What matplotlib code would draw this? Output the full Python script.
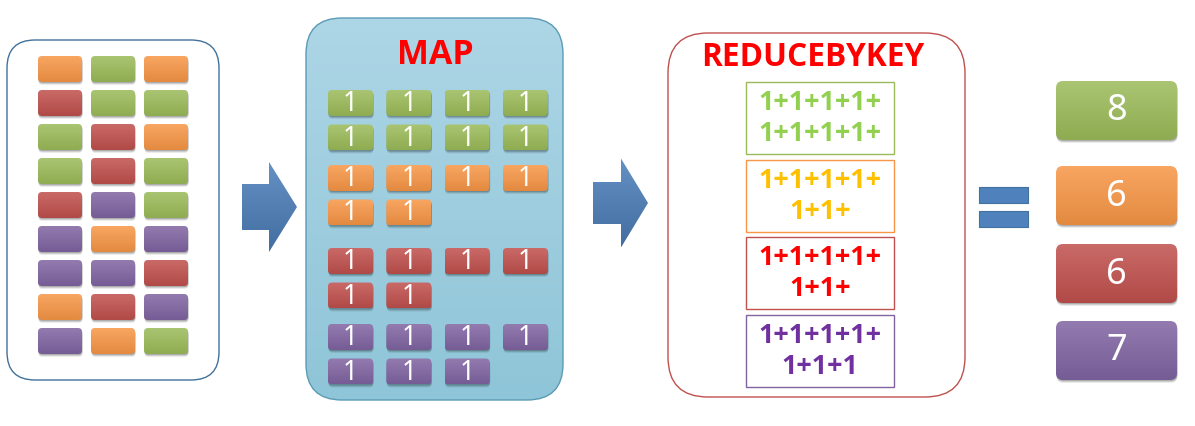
import numpy as np
import matplotlib
matplotlib.use("Agg")
import matplotlib.pyplot as plt
from matplotlib.patches import FancyBboxPatch, Polygon, Rectangle
from matplotlib.colors import to_rgb

# ---- data ----
keys = ["green", "orange", "red", "purple"]
tile_colors = {"green": "#9BBB59", "orange": "#F79646", "red": "#C0504D", "purple": "#8064A2"}
text_colors = {"green": "#92D050", "orange": "#FFC000", "red": "#FF0000", "purple": "#7030A0"}

input_grid = [
    ["orange", "green", "orange"],
    ["red", "green", "green"],
    ["green", "red", "orange"],
    ["green", "red", "green"],
    ["red", "purple", "green"],
    ["purple", "orange", "purple"],
    ["purple", "purple", "red"],
    ["orange", "red", "purple"],
    ["purple", "orange", "green"],
]
map_counts = [8, 6, 6, 7]
reduce_lines = [
    ["1+1+1+1+", "1+1+1+1+"],
    ["1+1+1+1+", "1+1+"],
    ["1+1+1+1+", "1+1+"],
    ["1+1+1+1+", "1+1+1"],
]
results = ["8", "6", "6", "7"]

W, H = 1195, 426
fig = plt.figure(figsize=(W / 100, H / 100), dpi=100)
ax = fig.add_axes([0, 0, 1, 1])
ax.set_axis_off()


def fill_grad(patch, color, top_light=0.15, bot_dark=0.92, z=3):
    ax.add_patch(patch)
    c = np.array(to_rgb(color))
    top = c + (1 - c) * top_light
    bot = c * bot_dark
    t = np.linspace(0, 1, 60)[:, None, None]
    img = top * (1 - t) + bot * t
    ext = patch.get_path().get_extents(patch.get_patch_transform())
    im = ax.imshow(np.clip(img, 0, 1), extent=(ext.x0, ext.x1, ext.y1, ext.y0),
                   aspect="auto", interpolation="bilinear", zorder=z)
    im.set_clip_path(patch)


def tile(x, y, w, h, color, r=5, z=3, label=None, fs=16):
    # soft shadow
    for k, a in ((3.0, 0.08), (2.0, 0.12), (1.0, 0.16)):
        ax.add_patch(FancyBboxPatch((x + 0.5, y + k), w, h,
                                    boxstyle=f"round,pad=0,rounding_size={r}",
                                    fc=(0, 0, 0, a), ec="none", zorder=z - 0.5))
    p = FancyBboxPatch((x, y), w, h, boxstyle=f"round,pad=0,rounding_size={r}",
                       fc="none", ec="none", zorder=z)
    fill_grad(p, color, z=z)
    if label is not None:
        ax.text(x + w / 2, y + h / 2 + 1, label, color="white", fontsize=fs,
                family=["Noto Sans", "DejaVu Sans"], weight="normal",
                ha="center", va="center", zorder=z + 1)


def arrow(x0, ys, shaft_h, head_x, head_h, tip_x, color="#4F81BD"):
    yc = ys + shaft_h / 2
    pts = [(x0, ys), (head_x, ys), (head_x, yc - head_h / 2), (tip_x, yc),
           (head_x, yc + head_h / 2), (head_x, ys + shaft_h), (x0, ys + shaft_h)]
    p = Polygon(pts, closed=True, fc="none", ec="none", zorder=3)
    fill_grad(p, color, top_light=0.12, bot_dark=0.85)


# ---- input panel ----
ax.add_patch(FancyBboxPatch((7, 40), 212, 340, boxstyle="round,pad=0,rounding_size=28",
                            fc="white", ec="#41719C", lw=1.0, zorder=1))
for i, row in enumerate(input_grid):
    for j, k in enumerate(row):
        tile(38 + j * 53, 56 + i * 34, 44, 26, tile_colors[k], r=4)

arrow(242, 184, 46, 269, 90, 297)

# ---- map panel ----
mp = FancyBboxPatch((306, 18), 257, 382, boxstyle="round,pad=0,rounding_size=36",
                    fc="none", ec="#5B9BB5", lw=1.0, zorder=1)
t = np.linspace(0, 1, 80)[:, None, None]
ctop, cbot = np.array(to_rgb("#ADD6E6")), np.array(to_rgb("#8FC5D8"))
im = ax.imshow(ctop * (1 - t) + cbot * t, extent=(306, 563, 400, 18), aspect="auto",
               interpolation="bilinear", zorder=0.9)
ax.add_patch(mp)
im.set_clip_path(mp)
ax.text(435, 55, "MAP", color="#FF0000", fontsize=24.5, weight="bold",
        family=["Open Sans", "DejaVu Sans"], ha="center", va="center", zorder=4)

group_top = [90, 165, 248, 324]
for g, k in enumerate(keys):
    for n in range(map_counts[g]):
        r_, c_ = divmod(n, 4)
        tile(328 + c_ * 58.3, group_top[g] + r_ * 34.5, 45, 26, tile_colors[k], r=4,
             label="1", fs=19)

arrow(593, 182, 42, 621, 89, 648)

# ---- reduce panel ----
ax.add_patch(FancyBboxPatch((668, 33), 297, 364, boxstyle="round,pad=0,rounding_size=40",
                            fc="white", ec="#C0504D", lw=1.0, zorder=1))
ax.text(813, 57, "REDUCEBYKEY", color="#FF0000", fontsize=22.8, weight="bold",
        family=["Open Sans", "DejaVu Sans"], ha="center", va="center", zorder=4)
for g, k in enumerate(keys):
    y0 = 82 + g * 77.7
    ax.add_patch(Rectangle((746, y0), 148, 72, fc="white", ec=tile_colors[k], lw=1.0, zorder=2))
    for li, s in enumerate(reduce_lines[g]):
        ax.text(820, y0 + 21 + li * 31, s, color=text_colors[k], fontsize=19.5, weight="bold",
                family=["Open Sans", "DejaVu Sans"], ha="center", va="center", zorder=4)

# ---- equals ----
for yb in (187, 211):
    ax.add_patch(Rectangle((979, yb), 49, 16, fc="#4F81BD", ec="#41719C", lw=0.8, zorder=3))

# ---- results ----
res_top = [81, 166, 244, 321]
for g, k in enumerate(keys):
    tile(1056, res_top[g], 121, 59, tile_colors[k], r=7, label=results[g], fs=26)

ax.set_xlim(0, W)
ax.set_ylim(H, 0)
fig.savefig("out.png", dpi=100, facecolor="white")
